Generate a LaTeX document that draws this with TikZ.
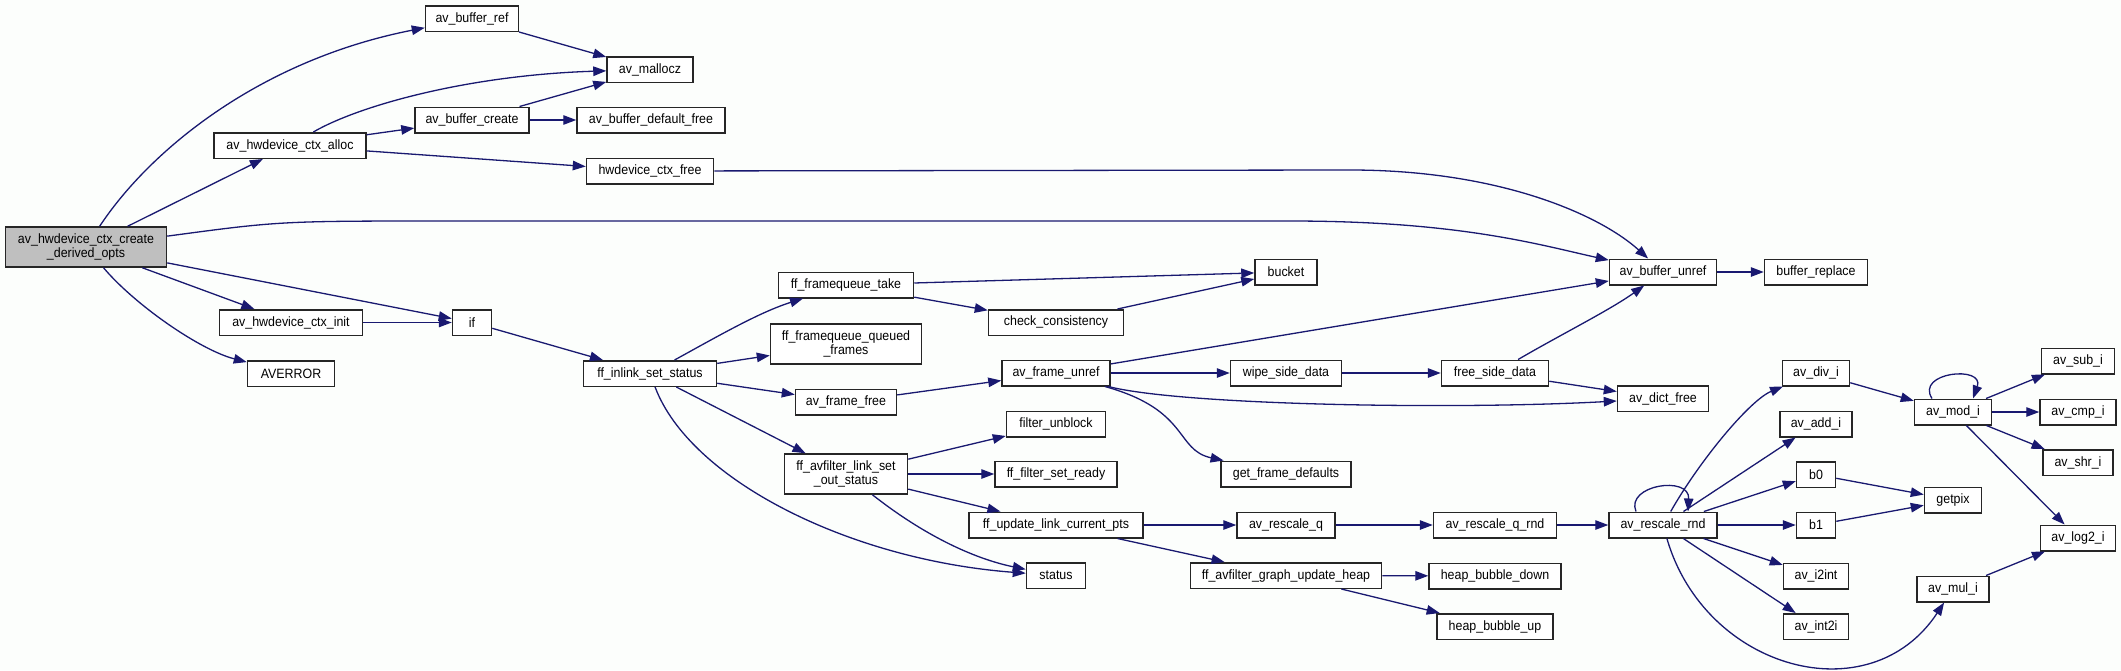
\documentclass[tikz,border=0pt]{standalone}
\usepackage{fontspec}
\setmainfont{Liberation Sans}[FakeStretch=0.92]
\usepackage{xcolor}
\usetikzlibrary{arrows.meta}
\definecolor{edgeblue}{RGB}{25,25,112}
\definecolor{rootgray}{RGB}{191,191,191}
\definecolor{bgwhite}{RGB}{252,254,252}

\begin{document}
\begin{tikzpicture}[x=1pt,y=-1pt,
        fn/.style={draw=black!85, fill=white, line width=1.5pt, minimum height=25.5pt,
            inner sep=0pt, align=center, font=\fontsize{13.5}{14}\selectfont},
        tall/.style={minimum height=40pt},
        call/.style={draw=edgeblue, line width=1.3pt, -{Triangle[length=13pt,width=9.5pt]}}]
                \useasboundingbox (0,0) rectangle (2121,670);
                \fill[bgwhite] (0,0) rectangle (2121,670);

                % Caller
                \node[fn, tall, fill=rootgray, minimum width=161] (root) at (86,247) {av\_hwdevice\_ctx\_create\\\_derived\_opts};

                % Buffer allocation
                \node[fn, minimum width=93] (bufref) at (472,18.5) {av\_buffer\_ref};
                \node[fn, minimum width=86] (mallocz) at (650,69.5) {av\_mallocz};
                \node[fn, minimum width=152] (alloc) at (290,145.5) {av\_hwdevice\_ctx\_alloc};
                \node[fn, minimum width=114] (bufcreate) at (472,120) {av\_buffer\_create};
                \node[fn, minimum width=148] (bufdeffree) at (651,120) {av\_buffer\_default\_free};
                \node[fn, minimum width=127] (hwfree) at (650,171) {hwdevice\_ctx\_free};
                \node[fn, minimum width=143] (init) at (291,322.5) {av\_hwdevice\_ctx\_init};
                \node[fn, minimum width=39] (ifcall) at (472,322.5) {if};
                \node[fn, minimum width=87] (averror) at (291,373.5) {AVERROR};
                \node[fn, minimum width=133] (inlink) at (650,373.5) {ff\_inlink\_set\_status};

                % Frame queue and link status
                \node[fn, minimum width=135] (fqtake) at (846,285) {ff\_framequeue\_take};
                \node[fn, tall, minimum width=151] (fqqueued) at (846,344) {ff\_framequeue\_queued\\\_frames};
                \node[fn, minimum width=101] (framefree) at (846,402) {av\_frame\_free};
                \node[fn, tall, minimum width=123] (linkout) at (846,474) {ff\_avfilter\_link\_set\\\_out\_status};
                \node[fn, minimum width=135] (checkcons) at (1056,322.5) {check\_consistency};
                \node[fn, minimum width=62] (bucket) at (1286,272) {bucket};
                \node[fn, minimum width=108] (frameunref) at (1056,373) {av\_frame\_unref};
                \node[fn, minimum width=111] (wipe) at (1286,373) {wipe\_side\_data};
                \node[fn, minimum width=99] (unblock) at (1056,424) {filter\_unblock};
                \node[fn, minimum width=122] (setready) at (1056,474) {ff\_filter\_set\_ready};
                \node[fn, minimum width=130] (getdef) at (1286,474) {get\_frame\_defaults};
                \node[fn, minimum width=174] (updpts) at (1056,525) {ff\_update\_link\_current\_pts};
                \node[fn, minimum width=59] (status) at (1056,575.5) {status};
                \node[fn, minimum width=98] (rescaleq) at (1286,525) {av\_rescale\_q};
                \node[fn, minimum width=191] (heap) at (1286,575.5) {ff\_avfilter\_graph\_update\_heap};

                % Unref and rescale
                \node[fn, minimum width=107] (bufunref) at (1663,272) {av\_buffer\_unref};
                \node[fn, minimum width=103] (bufreplace) at (1816,272) {buffer\_replace};
                \node[fn, minimum width=107] (freeside) at (1495,373) {free\_side\_data};
                \node[fn, minimum width=91] (dictfree) at (1663,398.5) {av\_dict\_free};
                \node[fn, minimum width=123] (rescaleqrnd) at (1495,525) {av\_rescale\_q\_rnd};
                \node[fn, minimum width=132] (bubdown) at (1495,576) {heap\_bubble\_down};
                \node[fn, minimum width=116] (bubup) at (1495,626.5) {heap\_bubble\_up};
                \node[fn, minimum width=108] (rescalernd) at (1663,525) {av\_rescale\_rnd};

                % Integer helpers
                \node[fn, minimum width=67] (divi) at (1816,373) {av\_div\_i};
                \node[fn, minimum width=72] (addi) at (1816,424) {av\_add\_i};
                \node[fn, minimum width=39] (bzero) at (1816,474.5) {b0};
                \node[fn, minimum width=39] (bone) at (1816,525) {b1};
                \node[fn, minimum width=65] (i2int) at (1816,576) {av\_i2int};
                \node[fn, minimum width=65] (int2i) at (1816,626.5) {av\_int2i};
                \node[fn, minimum width=77] (modi) at (1953,412) {av\_mod\_i};
                \node[fn, minimum width=57] (getpix) at (1953,500) {getpix};
                \node[fn, minimum width=72] (muli) at (1953,589) {av\_mul\_i};
                \node[fn, minimum width=73] (subi) at (2078,361) {av\_sub\_i};
                \node[fn, minimum width=76] (cmpi) at (2078,412) {av\_cmp\_i};
                \node[fn, minimum width=70] (shri) at (2078,462.5) {av\_shr\_i};
                \node[fn, minimum width=75] (log2i) at (2078,538) {av\_log2\_i};

                % Calls from the caller
                \draw[call] (root) .. controls (150,150) and (260,60) .. (bufref);
                \draw[call] (root) -- (alloc);
                \draw[call] (root) .. controls (280,221) .. (450,221) -- (1290,221) .. controls (1460,221) and (1540,245) .. (bufunref);
                \draw[call] (root) -- (ifcall);
                \draw[call] (root) -- (init);
                \draw[call] (root) .. controls (135,305) and (200,350) .. (averror);

                \draw[call] (bufref) -- (mallocz);
                \draw[call] (alloc) .. controls (360,105) and (470,75) .. (mallocz);
                \draw[call] (alloc) -- (bufcreate);
                \draw[call] (alloc) -- (hwfree);
                \draw[call] (bufcreate) -- (mallocz);
                \draw[call] (bufcreate) -- (bufdeffree);
                \draw[call] (hwfree) -- (1350,170) .. controls (1500,170) and (1600,215) .. (bufunref);
                \draw[call] (init) -- (ifcall);
                \draw[call] (ifcall) -- (inlink);

                % Link status calls
                \draw[call] (inlink) .. controls (720,335) and (760,312) .. (fqtake);
                \draw[call] (inlink) -- (fqqueued);
                \draw[call] (inlink) -- (framefree);
                \draw[call] (inlink) -- (linkout);
                \draw[call] (inlink) .. controls (690,480) and (850,560) .. (status);
                \draw[call] (fqtake) -- (bucket);
                \draw[call] (fqtake) -- (checkcons);
                \draw[call] (checkcons) -- (bucket);
                \draw[call] (framefree) -- (frameunref);
                \draw[call] (frameunref) -- (bufunref);
                \draw[call] (frameunref) -- (wipe);
                \draw[call] (frameunref) .. controls (1180,405) and (1450,410) .. (dictfree);
                \draw[call] (frameunref) .. controls (1190,410) and (1175,450) .. (getdef);
                \draw[call] (linkout) -- (unblock);
                \draw[call] (linkout) -- (setready);
                \draw[call] (linkout) -- (updpts);
                \draw[call] (linkout) .. controls (930,540) and (980,560) .. (status);
                \draw[call] (wipe) -- (freeside);
                \draw[call] (freeside) .. controls (1560,335) and (1610,310) .. (bufunref);
                \draw[call] (freeside) -- (dictfree);
                \draw[call] (bufunref) -- (bufreplace);
                \draw[call] (updpts) -- (rescaleq);
                \draw[call] (updpts) -- (heap);
                \draw[call] (rescaleq) -- (rescaleqrnd);
                \draw[call] (heap) -- (bubdown);
                \draw[call] (heap) -- (bubup);
                \draw[call] (rescaleqrnd) -- (rescalernd);

                % Rescale and integer calls
                \draw[call] ([xshift=-27pt]rescalernd.north) .. controls (1625,485) and (1690,475) .. ([xshift=25pt]rescalernd.north);
                \draw[call] (rescalernd) .. controls (1700,460) and (1750,400) .. (divi);
                \draw[call] (rescalernd) -- (addi);
                \draw[call] (rescalernd) -- (bzero);
                \draw[call] (rescalernd) -- (bone);
                \draw[call] (rescalernd) -- (i2int);
                \draw[call] (rescalernd) -- (int2i);
                \draw[call] (rescalernd) .. controls (1705,670) and (1870,715) .. (muli);
                \draw[call] (divi) -- (modi);
                \draw[call] ([xshift=-21pt]modi.north) .. controls (1915,372) and (1985,365) .. ([xshift=20pt]modi.north);
                \draw[call] (modi) -- (subi);
                \draw[call] (modi) -- (cmpi);
                \draw[call] (modi) -- (shri);
                \draw[call] (modi) -- (log2i);
                \draw[call] (bzero) -- (getpix);
                \draw[call] (bone) -- (getpix);
                \draw[call] (muli) -- (log2i);
\end{tikzpicture}
\end{document}
